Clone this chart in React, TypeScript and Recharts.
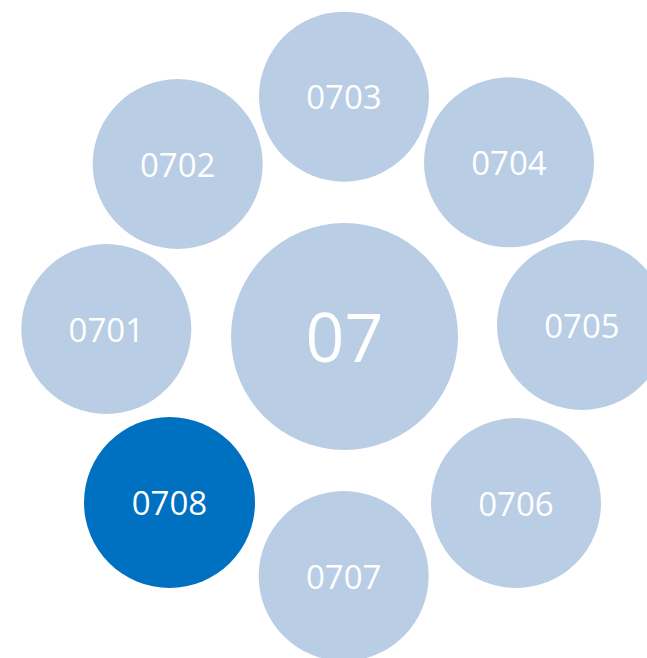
import React from 'react';
import { ScatterChart, Scatter, XAxis, YAxis } from 'recharts';

const CHART_WIDTH = 647;
const CHART_HEIGHT = 658;

// bubble layout
const labels = ['07', '0701', '0702', '0703', '0704', '0705', '0706', '0707', '0708'];
const xValues = [344.5, 106.3, 177.7, 344, 509, 582, 516, 343.7, 169.5];
const yValues = [336.5, 329, 164, 96.7, 162.3, 325, 503, 576, 502.5];
const sizes = [113.5, 85, 85, 85, 85, 85, 85, 85, 85.5];
const highlighted = ['0708'];

const LIGHT = '#B9CDE5';
const DARK = '#0070C0';

const data = labels.map((name, i) => ({
    name,
    x: xValues[i],
    y: yValues[i],
    size: sizes[i],
}));

const Bubble = (props: any) => {
    const { cx, cy, payload } = props;
    if (cx == null || cy == null) return null;
    // axes map 1 unit to 1px (domain == chart size, no margins)
    const r = payload.size * (CHART_WIDTH / CHART_WIDTH);
    const isCenter = payload.name.length === 2;
    const fontSize = isCenter ? 68 : 33;
    const fill = highlighted.includes(payload.name) ? DARK : LIGHT;
    return (
        <g>
            <circle cx={cx} cy={cy} r={r} fill={fill} />
            <text
                x={cx}
                y={cy + fontSize * 0.357 + 1}
                textAnchor="middle"
                fill="#FFFFFF"
                fontSize={fontSize}
                fontFamily="'Open Sans', 'Noto Sans', sans-serif"
            >
                {payload.name}
            </text>
        </g>
    );
};

const App: React.FC = () => {
    return (
        <div style={{ position: 'absolute', left: 0, top: 0, width: CHART_WIDTH, height: CHART_HEIGHT, background: '#FFFFFF' }}>
            <ScatterChart
                width={CHART_WIDTH}
                height={CHART_HEIGHT}
                margin={{ top: 0, right: 0, bottom: 0, left: 0 }}
            >
                <XAxis type="number" dataKey="x" domain={[0, CHART_WIDTH]} hide />
                <YAxis type="number" dataKey="y" domain={[0, CHART_HEIGHT]} reversed hide />
                <Scatter data={data} shape={<Bubble />} isAnimationActive={false} />
            </ScatterChart>
        </div>
    );
};

export default App;
